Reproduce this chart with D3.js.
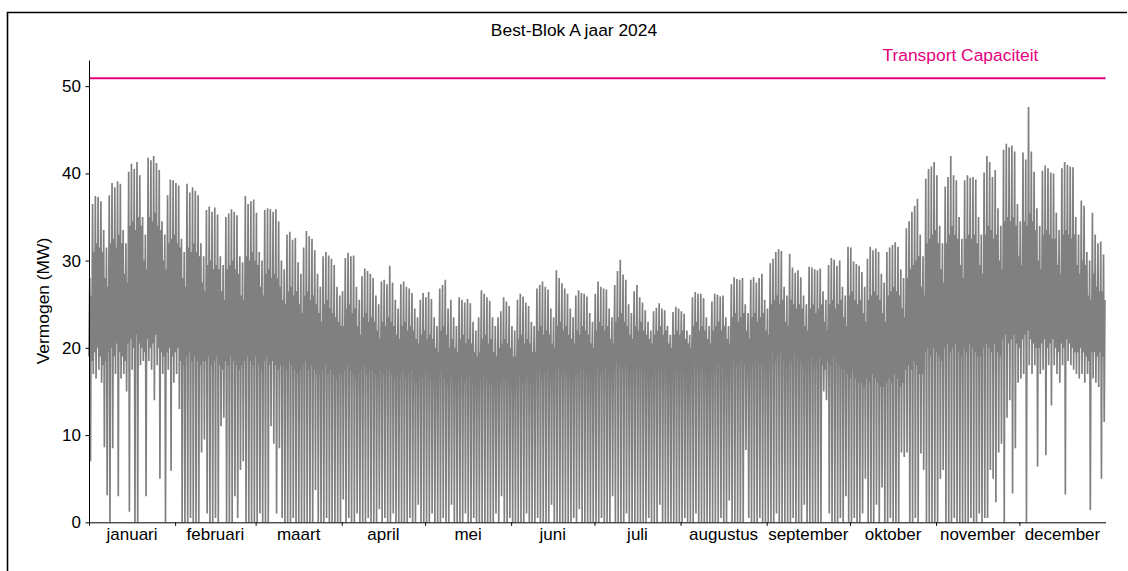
<!DOCTYPE html>
<html>
<head>
<meta charset="utf-8">
<script src="https://cdn.jsdelivr.net/npm/d3@7"></script>
<style>
  html, body { margin: 0; padding: 0; background: #fff; }
  svg { display: block; }
  text { font-family: "Liberation Sans", Arial, Helvetica, sans-serif; }
</style>
</head>
<body>
<svg id="chart" width="1128" height="571"></svg>
<script>
// ---------------- data ----------------
const chartTitle = "Best-Blok A jaar 2024";
const yAxisLabel = "Vermogen (MW)";
const capacityLabel = "Transport Capaciteit";
const capacityValue = 50.9;
const yTickValues = [0, 10, 20, 30, 40, 50];
const monthLabels = ["januari", "februari", "maart", "april", "mei", "juni",
  "juli", "augustus", "september", "oktober", "november", "december"];

// daily night (base) level, MW (Mon..Sun per row, 1 jan 2024 = Monday)
const nightLevel = [
  19, 18.5, 19.5, 20, 19, 18, 18.5,
  19.5, 20, 19, 20.5, 19.5, 19, 18.5,
  20.5, 21, 20, 21.5, 20.5, 20, 19.5,
  21, 20, 20.5, 21.5, 20, 19.5, 19,
  19.5, 20, 19, 19.5, 20, 18.5, 18,
  19, 19.5, 18.5, 19, 18.5, 18, 18.5,
  18.5, 19, 18, 18.5, 19, 18, 17.5,
  18.5, 18, 19, 18.5, 18, 17.5, 18,
  18.5, 19, 18.5, 18, 19, 18, 17.5,
  18.5, 19, 18, 18.5, 18, 17.5, 18,
  18, 17.5, 18.5, 18, 17.5, 17, 17.5,
  18, 18.5, 17.5, 18, 17.5, 17, 17,
  17.5, 18, 17, 17.5, 17, 16.5, 17,
  17, 17.5, 18, 17.5, 17, 16.5, 17,
  17.5, 18, 17, 17.5, 17.5, 17, 16.5,
  17.5, 17, 18, 17.5, 17, 16.5, 17,
  17, 17.5, 16.5, 17, 17.5, 16.5, 16,
  17, 16.5, 17.5, 17, 16.5, 16, 16.5,
  17, 17.5, 16.5, 16, 17, 16.5, 16,
  16.5, 17, 16, 16.5, 17, 16, 16,
  16, 16.5, 17, 16.5, 16, 16, 15.5,
  16.5, 16, 17, 16.5, 16, 15.5, 16,
  16.5, 17, 16, 16.5, 17, 16, 16,
  17, 17.5, 16.5, 17, 17.5, 16.5, 16.5,
  17.5, 18, 17, 17.5, 17, 17, 16.5,
  17.5, 17, 18, 17.5, 17, 17, 16.5,
  17.5, 18, 17, 17.5, 18, 17, 17,
  18, 18.5, 18, 17.5, 18, 17.5, 17,
  18, 17.5, 18.5, 18, 17.5, 17.5, 17,
  18, 18.5, 17.5, 18, 18, 17.5, 17,
  18, 17.5, 18, 18.5, 17.5, 17, 17.5,
  18, 18.5, 17.5, 18, 18.5, 17.5, 17,
  18, 17.5, 18.5, 18, 18, 17.5, 17.5,
  18.5, 19, 18, 18.5, 19, 18, 17.5,
  18.5, 18, 19, 18.5, 18, 18, 17.5,
  19, 19.5, 18.5, 19, 19.5, 18.5, 18,
  19, 18.5, 19.5, 19, 18.5, 18, 18.5,
  18.5, 19, 18, 18.5, 19, 18, 17.5,
  18.5, 18, 19, 18.5, 18, 17.5, 17.5,
  17, 16.5, 17.5, 16.5, 16, 16, 15.5,
  16.5, 16, 17, 16.5, 16, 15.5, 15.5,
  16, 16.5, 16, 17, 16.5, 15.5, 16,
  17.5, 18, 17.5, 18.5, 18, 17, 17,
  19.5, 20, 19, 20, 19.5, 19, 18.5,
  20, 20.5, 19.5, 20, 20.5, 19.5, 19,
  20, 19.5, 20.5, 20, 19.5, 19, 19,
  20, 20.5, 20, 19.5, 20.5, 19.5, 19,
  21, 21.5, 20.5, 21, 21.5, 20.5, 20,
  21, 21.5, 22, 21, 20.5, 20, 20,
  20.5, 21, 20, 20.5, 21, 20, 19.5,
  20.5, 20, 21, 20.5, 20, 19.5, 19.5,
  20, 19.5, 19, 18.5, 19.5, 19.5, 19,
  19.5, 19
];

// daily daytime (core top) level, MW
const dayLevel = [
  26, 31, 32, 31.5, 31, 28, 27,
  32, 32.5, 31.5, 33, 32, 28.5, 27.5,
  34, 34.5, 33.5, 35, 34, 30, 29,
  35, 34.5, 35.5, 34, 33.5, 30, 29,
  32, 32.5, 33, 32, 31.5, 28, 27,
  31.5, 31, 32, 31, 30.5, 27.5, 26.5,
  29.5, 30, 29, 29.5, 29, 26.5, 25.5,
  29, 29.5, 30, 29, 28.5, 26, 25.5,
  30.5, 30, 31, 30, 29.5, 27, 26,
  28.5, 29, 28, 28.5, 28, 27, 25.5,
  25, 26.5, 27, 26, 26.5, 25, 24,
  26, 26.5, 25.5, 26, 25, 24, 23,
  25, 25.5, 24.5, 24, 23.5, 23, 22.5,
  22.5, 24.5, 25, 24, 24.5, 22.5, 21.5,
  23.5, 24, 23, 23.5, 23, 22, 21,
  23, 22.5, 23.5, 23, 22.5, 21.5, 21,
  22.5, 23, 22, 22.5, 22, 21, 20.5,
  21.5, 22, 21, 21.5, 21, 20, 19.5,
  22, 22.5, 21.5, 20, 21, 20, 19.5,
  21, 21.5, 20.5, 21, 20.5, 19.5, 19,
  19.5, 21, 21.5, 20.5, 21, 19.5, 19,
  20, 20.5, 21, 20.5, 20, 19, 19,
  21, 21.5, 20.5, 21, 20.5, 19.5, 19.5,
  22, 22.5, 21.5, 22, 21.5, 20.5, 20,
  22.5, 23, 22, 22.5, 21.5, 21, 20.5,
  22, 21.5, 22.5, 22, 21.5, 20.5, 20,
  22, 23, 22.5, 22, 22.5, 21, 20.5,
  23, 23.5, 24, 23, 22.5, 21.5, 21,
  22.5, 22, 23, 22, 21.5, 21, 20.5,
  21.5, 22, 22.5, 21.5, 22, 20.5, 20,
  21.5, 22, 21.5, 22, 21, 20.5, 20,
  22.5, 23, 22, 22.5, 22, 21, 20.5,
  22, 22.5, 23, 22, 22.5, 21, 20.5,
  23.5, 24, 23, 23.5, 24, 22, 21,
  23.5, 24, 23, 23.5, 24, 22, 21.5,
  25, 25.5, 26, 25, 25.5, 23, 22.5,
  25.5, 25, 24.5, 25, 24.5, 22.5, 22,
  24.5, 25, 24, 24.5, 25, 23, 22,
  25, 25.5, 24.5, 25, 25.5, 23.5, 22.5,
  26, 26.5, 25.5, 25, 25.5, 24, 23,
  25.5, 26, 26.5, 26, 25.5, 24, 23,
  26, 26.5, 27, 26.5, 26, 24.5, 23.5,
  28, 29, 29.5, 30, 30.5, 27, 26,
  32, 32.5, 33, 33.5, 32, 29, 27.5,
  32, 33, 34, 33, 32.5, 29.5, 28,
  32.5, 33, 32.5, 33, 32, 29.5, 28.5,
  33, 34, 33.5, 32.5, 33, 30, 29,
  34.5, 35, 34.5, 35, 34, 30.5, 29.5,
  34.5, 34, 35.5, 34.5, 33.5, 30, 29,
  33, 33.5, 33, 32.5, 32.5, 29.5, 28.5,
  33, 33.5, 33, 32.5, 33, 29.5, 28.5,
  30, 29.5, 26, 25.5, 28.5, 27, 26.5,
  26.5, 25.5
];

// daily peak, MW
const dailyPeak = [
  28, 36.5, 37.4, 37.3, 36.8, 33.5, 31.5,
  37.5, 38.9, 38.4, 39.1, 38.8, 33.5, 32,
  40.2, 41.1, 40.5, 41.3, 39.8, 35, 33,
  41.8, 41.5, 42, 41.2, 40.4, 34.5, 33,
  37.5, 39.3, 39.2, 38.9, 38.6, 32.5, 31,
  38.8, 37.8, 38.4, 38, 37.5, 32, 30.5,
  35.8, 36.2, 35.6, 36.1, 35.3, 30.5, 29.5,
  35, 35.4, 35.9, 35.6, 35.2, 30.5, 29.8,
  37.4, 36.5, 36.8, 37, 35.5, 31, 30,
  35.8, 36, 35.9, 35.6, 35.9, 34.5, 30,
  29, 33, 33.3, 32.4, 32.6, 29.8, 28.5,
  31.5, 33.4, 32.8, 32.5, 31.2, 28.5, 27,
  30.5, 31, 30.6, 30.2, 29.5, 27, 26,
  26.5, 30.3, 30.9, 30.5, 30.6, 27, 25.5,
  28.2, 29.1, 28.8, 28.5, 28, 26, 25,
  27.6, 27.8, 27.3, 29.4, 27.5, 25.5, 24.5,
  27.3, 27.6, 27, 26.8, 26.3, 24.5, 23.5,
  25.5, 26.3, 25.8, 26.4, 25.6, 23.5, 22.5,
  26.8, 27.2, 27.8, 24.5, 25.5, 23.5, 22.5,
  25.8, 25.5, 25.2, 25.6, 25.1, 23, 22,
  23.5, 26.6, 26.2, 25.8, 25.4, 23.5, 22.5,
  23.5, 24.2, 25.8, 25.3, 24.8, 22.5, 22,
  25.5, 26.2, 25.9, 25.2, 24.8, 23, 22.5,
  26.8, 27.2, 27.6, 27, 26.7, 24.5, 23.5,
  28.9, 28, 27.4, 26.8, 26.2, 24.5, 23.5,
  26, 26.6, 26.3, 26.2, 25.9, 24, 23,
  26.2, 27.6, 27, 26.8, 26.7, 24.5, 23.5,
  27.2, 28.8, 30.1, 28.4, 27.8, 25, 24,
  26.5, 27.2, 25.8, 25.2, 24.3, 23, 22,
  24.2, 24.6, 25.1, 24.5, 24.3, 22.5, 21.5,
  24.1, 24.7, 24.5, 24.2, 23.9, 22, 21.5,
  25.8, 26.4, 26.2, 26.2, 25.7, 23.5, 22.5,
  25.3, 26.2, 26.1, 25.9, 26, 23.5, 22.5,
  27.3, 28.1, 27.9, 27.8, 28, 25, 24,
  27.8, 28.1, 27.5, 28, 28.5, 25.5, 24.5,
  29.7, 30.2, 31, 31.3, 31.1, 27, 26,
  30.8, 29.2, 28.6, 28.9, 28.1, 26, 25,
  29.3, 29.2, 29, 28.9, 29.1, 26.5, 25.5,
  29.5, 30.3, 30.1, 29.4, 30, 27, 26,
  31.6, 31.5, 29.9, 29.6, 29.4, 28.7, 27,
  30.2, 31.6, 31.2, 31.4, 31, 28.5, 27.5,
  31, 31.5, 31.8, 32.1, 31.6, 29, 28,
  33.7, 34.5, 35.6, 36.3, 37.1, 33, 30.5,
  39.4, 40.5, 40.8, 41.3, 39.8, 34, 32,
  38.5, 39.6, 42, 39.8, 39.2, 35, 32.5,
  39.2, 39.8, 39.5, 39.6, 39.3, 35, 33,
  40.1, 42, 41.3, 39.6, 40.4, 36, 34,
  42.7, 43.4, 43, 43.2, 42.5, 36.5, 34.5,
  42.4, 41.6, 47.6, 42.5, 40.2, 36, 34,
  40.3, 40.9, 40.6, 40.1, 40, 35.5, 33.5,
  40.6, 41.3, 41, 40.8, 40.7, 35, 33,
  36.9, 36.3, 31, 30, 35.5, 33, 32,
  32.2, 30.7
];

// daily minimum, MW
const dailyMin = [
  7, 17, 16.5, 17.5, 16, 8.6, 3.1,
  0, 8.5, 17, 3, 16.5, 17, 15,
  1.2, 17.5, 0, 0, 18, 18.5, 3,
  18.5, 17.5, 14, 18, 5, 17, 0,
  17.5, 5.9, 16, 17, 13, 0, 0,
  0, 0.5, 0, 0, 0, 8, 9.5,
  1, 0, 0, 0.5, 0, 11, 12,
  0, 0, 0, 3, 0.5, 6, 7,
  0, 0, 0, 0, 0, 1, 0,
  0, 0, 11, 9, 1, 8.5, 0.5,
  0, 0, 0, 0.5, 0, 0, 0,
  0, 0, 0, 0, 3.7, 0, 0,
  0, 0.5, 0, 0, 0, 0, 0,
  2.6, 0, 0.5, 0, 0, 1, 0,
  0, 0, 0.5, 0, 0, 0, 1.5,
  0, 0.5, 0, 0, 1, 0, 0,
  0, 0, 0, 0.5, 0, 0, 2,
  0, 0, 0, 0, 1, 0, 0,
  0, 0.5, 0, 0, 2, 0, 0,
  0, 0, 1, 0, 0, 0.5, 0,
  0, 0, 0, 0, 0, 0, 1,
  0, 3, 0, 0, 0.5, 0, 0,
  0, 0, 0, 1, 0, 0, 0,
  0.5, 0, 0, 0, 0, 2, 0,
  0, 0, 0, 0, 0, 0, 0.5,
  0, 1.5, 0, 0, 0, 0, 0,
  0, 0, 0.5, 0, 0, 0, 3,
  0, 0, 0, 0, 1, 0, 0,
  0, 0, 0, 0, 0, 0.5, 0,
  0, 0, 2, 0, 0, 0, 0,
  0, 0, 0, 0, 0.5, 0, 0,
  0, 1, 0, 0, 0, 0, 0,
  0, 0, 0, 0.5, 0, 0, 2.5,
  0, 0, 0, 0, 0, 8.3, 0.5,
  0, 0, 0, 0.5, 0, 0, 0,
  0, 0, 1, 0, 0, 0, 0,
  0, 0.5, 0, 0, 0, 2, 0,
  0, 0, 0, 0, 0, 15, 14,
  1, 0, 0, 0, 0.5, 0, 3,
  0, 0, 0.5, 0, 0, 1, 5,
  0, 0, 0, 2, 0, 4, 0,
  0, 0.5, 0, 0, 0, 8, 7.5,
  8, 0, 0, 0.5, 0, 7.9, 6,
  0, 0, 0, 0, 0, 5, 6,
  0, 0, 0, 0.5, 0, 0, 0,
  0, 0, 0.5, 0, 0, 1, 0,
  0.5, 0.5, 6, 5, 2.3, 8, 9,
  0, 12, 14, 3.3, 8.5, 16, 16.5,
  17, 0, 18, 17, 18, 6.4, 17,
  17.5, 7.7, 18, 13.4, 18, 17, 16,
  18, 3.2, 18.5, 18, 17.5, 17, 16.5,
  17, 16, 17, 1.4, 16.5, 16, 15.5,
  5, 11.5
];

// ---------------- drawing ----------------
const svg = d3.select("#chart");
const HOUR = 3600 * 1000;
const DAY = 24 * HOUR;
const yearStart = Date.UTC(2024, 0, 1);
const yearEnd = Date.UTC(2025, 0, 1);

const x = d3.scaleUtc().domain([new Date(yearStart), new Date(yearEnd)]).range([89, 1105.5]);
const y = d3.scaleLinear().domain([0, 53]).range([522.3, 60]);

// series: per day the readings night level, peak, minimum, day level
const series = [];
dailyPeak.forEach((pk, d) => {
  const t0 = yearStart + d * DAY;
  series.push({ t: new Date(t0), v: nightLevel[d] });
  series.push({ t: new Date(t0 + 7 * HOUR), v: pk });
  series.push({ t: new Date(t0 + 13 * HOUR), v: dailyMin[d] });
  series.push({ t: new Date(t0 + 19 * HOUR), v: dayLevel[d] });
});

// figure frame (partly cropped)
svg.append("path")
  .attr("d", "M7.5,571V12.5H1127")
  .attr("fill", "none").attr("stroke", "#000").attr("stroke-width", 1.6);

// data line
const line = d3.line().x(p => x(p.t)).y(p => y(p.v));
svg.append("path")
  .datum(series)
  .attr("d", line)
  .attr("fill", "none")
  .attr("stroke", "#808080")
  .attr("stroke-width", 1.7)
  .attr("stroke-linejoin", "miter");

// capacity line
svg.append("line")
  .attr("x1", x.range()[0]).attr("x2", x.range()[1])
  .attr("y1", y(capacityValue)).attr("y2", y(capacityValue))
  .attr("stroke", "#e5007d").attr("stroke-width", 2);
svg.append("text")
  .attr("x", 882.5).attr("y", 61)
  .attr("fill", "#e5007d").attr("font-size", 17.4)
  .text(capacityLabel);

// axes
const yAxis = d3.axisLeft(y).tickValues(yTickValues).tickSize(3.5).tickSizeOuter(0).tickPadding(4.5);
const gy = svg.append("g").attr("transform", "translate(89,0)").call(yAxis);
gy.selectAll("text").attr("font-size", 17).attr("fill", "#000").style("font-family", "'Liberation Sans', Arial, sans-serif");
gy.selectAll("line").attr("stroke", "#000");
gy.select(".domain").attr("stroke", "#000");

const monthStarts = d3.utcMonth.range(new Date(yearStart), new Date(yearEnd));
const xAxis = d3.axisBottom(x).tickValues(monthStarts).tickFormat("").tickSize(3.5).tickSizeOuter(0);
const gx = svg.append("g").attr("transform", "translate(0,522.3)").call(xAxis);
gx.selectAll("line").attr("stroke", "#000");
gx.select(".domain").attr("stroke", "#000");

// month labels centred in each month
svg.append("g").selectAll("text")
  .data(monthStarts)
  .join("text")
  .attr("x", (m, i) => (x(m) + x(d3.utcMonth.offset(m, 1))) / 2)
  .attr("y", 540)
  .attr("text-anchor", "middle")
  .attr("font-size", 17)
  .attr("fill", "#000")
  .text((m, i) => monthLabels[i]);

// y label
svg.append("text")
  .attr("transform", "translate(42.5,301) rotate(-90)")
  .attr("text-anchor", "middle")
  .attr("dy", "0.35em")
  .attr("font-size", 17.4)
  .attr("fill", "#000")
  .text(yAxisLabel);

// title
svg.append("text")
  .attr("x", 574).attr("y", 36)
  .attr("text-anchor", "middle")
  .attr("font-size", 17.4)
  .attr("fill", "#000")
  .text(chartTitle);
</script>
</body>
</html>
